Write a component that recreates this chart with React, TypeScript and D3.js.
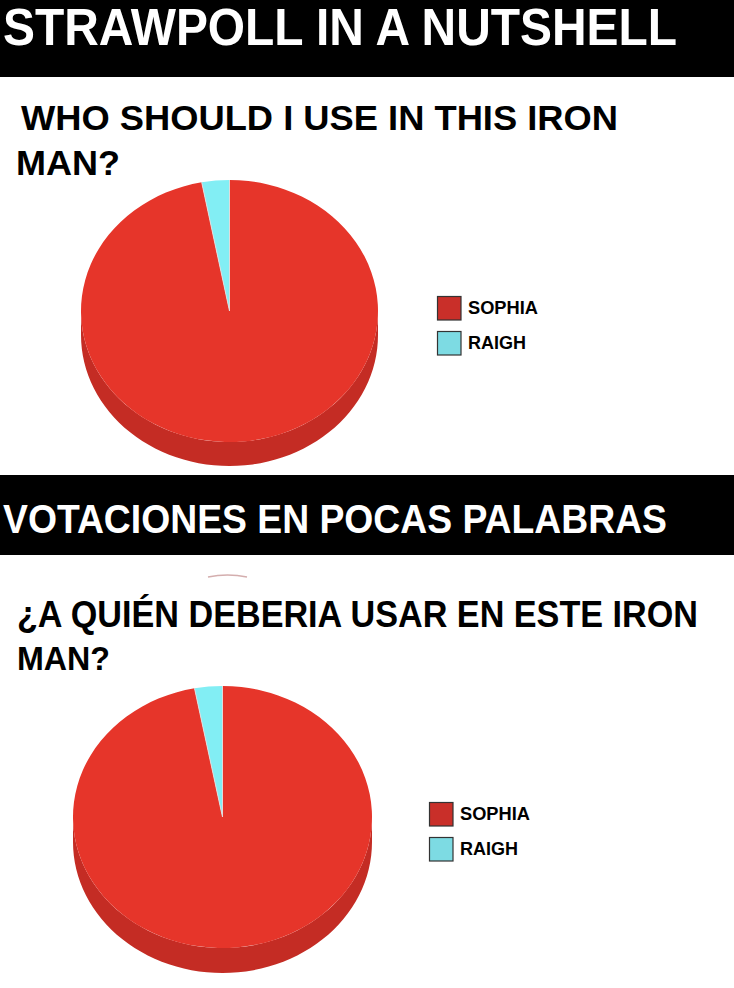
import React from 'react';
import * as d3 from 'd3';

// poll data
const candidates = ['SOPHIA', 'RAIGH'];
const votes = [97, 3];
const faceColors = ['#E6352A', '#82EEF4'];
const sideColors = ['#C42C24', '#5FC8CF'];
const swatchColors = ['#C92F29', '#7DDBE3'];

const headers = ['STRAWPOLL IN A NUTSHELL', 'VOTACIONES EN POCAS PALABRAS'];
const questionLines = [
  ['WHO SHOULD I USE IN THIS IRON', 'MAN?'],
  ['¿A QUIÉN DEBERIA USAR EN ESTE IRON', 'MAN?'],
];

const W = 734;
const H = 988;
const FONT = '"Liberation Sans Narrow", "Liberation Sans", Arial, sans-serif';

type PanelLayout = {
  barY: number; barH: number;
  header: { x: number; y: number; len: number; size: number };
  lines: { x: number; y: number; len: number; size: number }[];
  pie: { cx: number; cy: number; rx: number; ry: number; depth: number };
  legend: { x: number; y: number; gap: number };
};

const layouts: PanelLayout[] = [
  {
    barY: 0, barH: 77,
    header: { x: 3, y: 45, len: 674, size: 51 },
    lines: [
      { x: 21, y: 130, len: 597, size: 35 },
      { x: 16, y: 175, len: 104, size: 35 },
    ],
    pie: { cx: 229.5, cy: 311, rx: 148.5, ry: 131, depth: 24 },
    legend: { x: 437, y: 296, gap: 35 },
  },
  {
    barY: 475, barH: 80,
    header: { x: 3, y: 533, len: 664, size: 41 },
    lines: [
      { x: 17, y: 627, len: 681, size: 36 },
      { x: 17, y: 670, len: 93, size: 34 },
    ],
    pie: { cx: 222.5, cy: 817, rx: 149.5, ry: 131, depth: 25 },
    legend: { x: 429, y: 802, gap: 35 },
  },
];

const pieGen = d3.pie<number>().sort(null).value(d => d);

function Pie3D({ cx, cy, rx, ry, depth }: PanelLayout['pie']) {
  const arcs = pieGen(votes);
  const arc = d3.arc<d3.PieArcDatum<number>>().innerRadius(0).outerRadius(rx);
  const pt = (a: number, dy = 0): [number, number] => [cx + rx * Math.sin(a), cy - ry * Math.cos(a) + dy];

  // visible side: front half of the ellipse (angles PI/2 .. 3PI/2)
  const sides = arcs.map((a, i) => {
    const s = Math.max(a.startAngle, Math.PI / 2);
    const e = Math.min(a.endAngle, (3 * Math.PI) / 2);
    if (e <= s) return null;
    const n = 60;
    const top = d3.range(n + 1).map(k => pt(s + ((e - s) * k) / n));
    const bot = d3.range(n + 1).map(k => pt(e - ((e - s) * k) / n, depth));
    const d = d3.line()([...top, ...bot]) + 'Z';
    return <path key={i} d={d} fill={sideColors[i]} />;
  });

  return (
    <g>
      {sides}
      <g transform={`translate(${cx},${cy}) scale(1,${ry / rx})`}>
        {arcs.map((a, i) => (
          <path key={i} d={arc(a) || ''} fill={faceColors[i]} />
        ))}
      </g>
      {/* slice boundaries */}
      {arcs.map((a, i) => {
        const [x, y] = pt(a.startAngle);
        return <line key={i} x1={cx} y1={cy} x2={x} y2={y} stroke="#e4dede" strokeWidth={0.9} />;
      })}
    </g>
  );
}

export default function App() {
  return (
    <svg width={W} height={H} viewBox={`0 0 ${W} ${H}`}
      style={{ position: 'absolute', left: 0, top: 0, display: 'block', background: '#fff' }}>
      <rect x={0} y={0} width={W} height={H} fill="#fff" />
      {layouts.map((L, p) => (
        <g key={p}>
          <rect x={0} y={L.barY} width={W} height={L.barH} fill="#000" />
          <text x={L.header.x} y={L.header.y} fill="#fff" fontFamily={FONT} fontWeight="bold"
            fontSize={L.header.size} textLength={L.header.len} lengthAdjust="spacingAndGlyphs">
            {headers[p]}
          </text>
          {questionLines[p].map((t, j) => (
            <text key={j} x={L.lines[j].x} y={L.lines[j].y} fill="#000" fontFamily={FONT}
              fontWeight="bold" fontSize={L.lines[j].size} textLength={L.lines[j].len}
              lengthAdjust="spacingAndGlyphs">
              {t}
            </text>
          ))}
          <Pie3D {...L.pie} />
          {candidates.map((c, i) => (
            <g key={c} transform={`translate(${L.legend.x},${L.legend.y + i * L.legend.gap})`}>
              <rect x={0.5} y={0.5} width={23.5} height={23.5} fill={swatchColors[i]}
                stroke="#333" strokeWidth={1.2} />
              <text x={31} y={17.5} fontFamily={FONT} fontWeight="bold" fontSize={17.5}
                fill="#000" textLength={i === 0 ? 70 : 58} lengthAdjust="spacingAndGlyphs">
                {c}
              </text>
            </g>
          ))}
        </g>
      ))}
      {/* faint leftover arc under the second header */}
      <path d="M208,577 Q227.5,573 247,577" fill="none" stroke="#c99a9a" strokeWidth={1.5} opacity={0.8} />
    </svg>
  );
}
